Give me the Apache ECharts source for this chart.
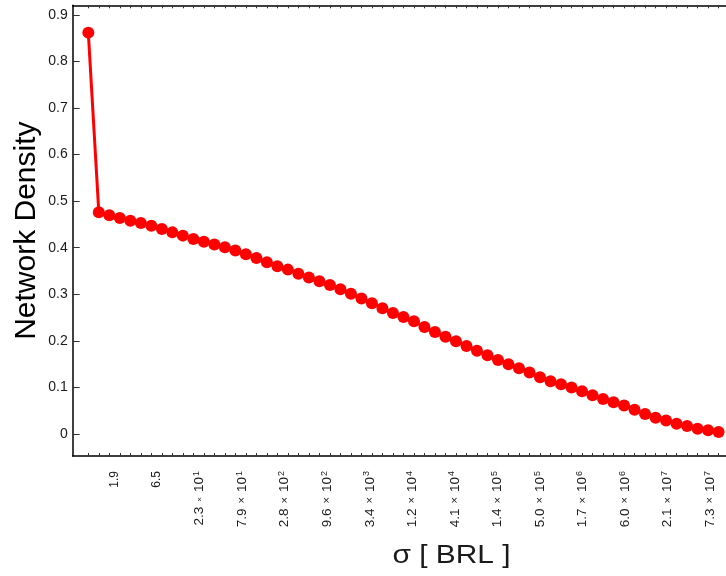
<!DOCTYPE html>
<html>
<head>
<meta charset="utf-8">
<title>Network Density vs sigma</title>
<script src="https://cdn.jsdelivr.net/npm/echarts@6/dist/echarts.min.js"></script>
<style>
    html, body { margin: 0; padding: 0; background: #fff; }
    #chart { width: 726px; height: 576px; }
</style>
</head>
<body>
<div id="chart"></div>
<script>
// 网络密度, 每个点对应一个 sigma 取值 (按点序号排列)
var density = [
    0.862, 0.476, 0.470, 0.464, 0.458, 0.453, 0.447, 0.440, 0.433, 0.426,
    0.419, 0.413, 0.407, 0.401, 0.394, 0.386, 0.378, 0.369, 0.360, 0.353,
    0.344, 0.336, 0.328, 0.320, 0.311, 0.301, 0.291, 0.281, 0.270, 0.260,
    0.251, 0.242, 0.230, 0.219, 0.209, 0.199, 0.189, 0.179, 0.169, 0.159,
    0.150, 0.141, 0.132, 0.122, 0.113, 0.107, 0.100, 0.092, 0.083, 0.075,
    0.068, 0.061, 0.052, 0.043, 0.035, 0.029, 0.022, 0.017, 0.011, 0.008,
    0.004
];

// x 轴刻度标签: 位置(以点序号计), 尾数, 10 的指数
var sigmaLabelPos = [2.5, 6.55, 10.6, 14.65, 18.7, 22.75, 26.8, 30.85, 34.9, 38.95, 43.0, 47.05, 51.1, 55.15, 59.2];
var sigmaMant = ['1.9', '6.5', '2.3', '7.9', '2.8', '9.6', '3.4', '1.2', '4.1', '1.4', '5.0', '1.7', '6.0', '2.1', '7.3'];
var sigmaExp = [null, null, 1, 1, 2, 2, 3, 4, 4, 5, 5, 6, 6, 7, 7];

// y 轴刻度
var densityTicks = [0, 0.1, 0.2, 0.3, 0.4, 0.5, 0.6, 0.7, 0.8, 0.9];

var FONT = 'Arial, "Liberation Sans", Helvetica, sans-serif';
var INK = '#1a1a1a';

var points = [];
var xTicks = [];
for (var i = 0; i < density.length; i++) {
    points.push([i, density[i]]);
}
for (var t = 0; t <= 70; t++) {
    xTicks.push(t);
}

/**
 * 刻度标签 rich 文本: 尾数 × 10^指数
 */
function sigmaText(k) {
    if (sigmaExp[k] === null) {
        return '{m|' + sigmaMant[k] + '}';
    }
    var times = k === 2 ? '{xs|×}' : '{x|×}'; // 第一个 × 原图偏小
    return '{n|' + sigmaMant[k] + '}' + times + '{n|10}{s|' + sigmaExp[k] + '}';
}

var chart = echarts.init(document.getElementById('chart'), null, { renderer: 'canvas' });

var frameLine = { show: true, onZero: false, lineStyle: { color: '#000', width: 1.5 } };

var option = {
    animation: false,
    backgroundColor: '#fff',
    // 画框右侧超出画布 (原图被裁掉)
    grid: { left: 72.7, top: 5.3, width: 758.3, height: 450.7, outerBoundsMode: 'none', containLabel: false },
    xAxis: [
        {
            type: 'value',
            position: 'bottom',
            min: -1.486,
            max: 70.7,
            axisLine: frameLine,
            splitLine: { show: false },
            axisTick: {
                show: true, inside: true, length: 3,
                customValues: xTicks,
                lineStyle: { color: '#333', width: 1 }
            },
            axisLabel: {
                show: true,
                customValues: sigmaLabelPos,
                rotate: 90,
                margin: 15,
                fontSize: 12,
                fontFamily: FONT,
                color: INK,
                formatter: function (value) {
                    var k = sigmaLabelPos.indexOf(value);
                    return k >= 0 ? sigmaText(k) : '';
                },
                rich: {
                    m: { fontSize: 12, fontFamily: FONT, color: INK, lineHeight: 15 },
                    n: { fontSize: 13.5, fontFamily: FONT, color: INK, lineHeight: 15 },
                    x: { fontSize: 11, fontFamily: FONT, color: INK, lineHeight: 15, padding: [0, 5, 0, 5] },
                    xs: { fontSize: 8, fontFamily: FONT, color: INK, lineHeight: 15, padding: [0, 5, 0, 5] },
                    s: { fontSize: 9, fontFamily: FONT, color: INK, lineHeight: 15, verticalAlign: 'top', padding: [0, 0, 0, 1] }
                }
            }
        },
        {
            type: 'value',
            position: 'top',
            min: -1.486,
            max: 70.7,
            axisLine: frameLine,
            splitLine: { show: false },
            axisTick: {
                show: true, inside: true, length: 3,
                customValues: xTicks,
                lineStyle: { color: '#333', width: 1 }
            },
            axisLabel: { show: false }
        }
    ],
    yAxis: {
        type: 'value',
        min: -0.0473,
        max: 0.9207,
        axisLine: frameLine,
        splitLine: { show: false },
        axisTick: {
            show: true, inside: true, length: 7,
            customValues: densityTicks,
            lineStyle: { color: '#333', width: 1 }
        },
        axisLabel: {
            show: true,
            customValues: densityTicks,
            margin: 5,
            fontSize: 14,
            fontFamily: FONT,
            color: INK,
            formatter: function (value) {
                return value === 0 ? '0' : value.toFixed(1);
            }
        },
        name: 'Network Density',
        nameLocation: 'middle',
        nameGap: 31,
        nameMoveOverlap: false,
        nameTextStyle: { fontSize: 30, fontFamily: FONT, color: '#000' }
    },
    // x 轴标题: 原图字形横向略宽
    graphic: [
        {
            type: 'text',
            x: 451.5,
            y: 556,
            scaleX: 1.15,
            style: {
                text: 'σ [ BRL ]',
                fontSize: 26,
                fontFamily: FONT,
                fill: INK,
                align: 'center',
                verticalAlign: 'middle'
            }
        }
    ],
    series: [
        {
            type: 'line',
            data: points,
            xAxisIndex: 0,
            symbol: 'circle',
            symbolSize: 12,
            showSymbol: true,
            lineStyle: { color: '#ff0000', width: 3 },
            itemStyle: { color: '#ff0000' },
            z: 3
        }
    ]
};

chart.setOption(option);
</script>
</body>
</html>
